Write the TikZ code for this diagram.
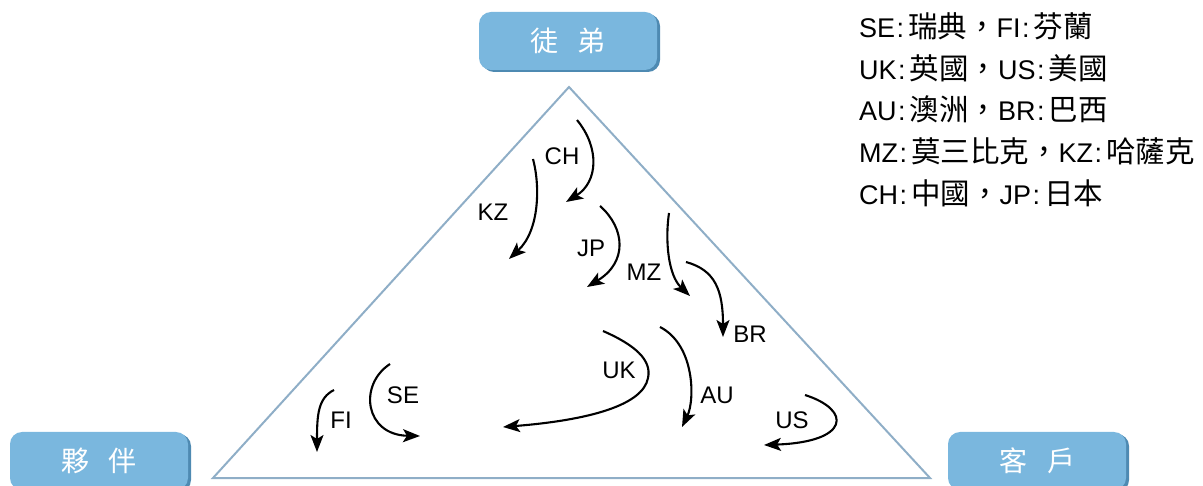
\documentclass[tikz,border=0pt]{standalone}
\usepackage{fontspec}
\setmainfont{Liberation Sans}
\newfontfamily\zhfont{Noto Sans CJK TC}
\newcommand{\zh}[1]{{\zhfont\fontsize{29.5}{34}\selectfont #1}}
\newcommand{\cln}{\hspace{1.5pt}:\hspace{4pt}}
\usetikzlibrary{arrows.meta,shadows}
\definecolor{boxblue}{RGB}{122,183,222}
\definecolor{boxshade}{RGB}{78,138,178}
\definecolor{triline}{RGB}{143,174,199}
\tikzset{
 box/.style={fill=boxblue, rounded corners=12pt, minimum width=178pt, minimum height=58pt, inner sep=0pt, text=white, font=\zhfont\fontsize{28}{30}\selectfont, drop shadow={shadow xshift=3pt, shadow yshift=-2pt, fill=boxshade, opacity=1}},
 lbl/.style={font=\fontsize{24}{26}\selectfont, inner sep=0pt},
 legend/.style={anchor=base west, inner sep=0pt, font=\fontsize{27}{30}\selectfont},
 flow/.style={line width=2.1pt, -{Stealth[length=17pt,width=13pt,inset=4pt]}},
 tri/.style={draw=triline, line width=2pt, line join=miter},
}
\begin{document}
\begin{tikzpicture}[x=1pt,y=-1pt]
\clip (0,0) rectangle (1203,486);
\useasboundingbox (0,0) rectangle (1203,486);
% triangle
\coordinate (apex) at (569,87);
\coordinate (bl) at (213,478);
\coordinate (br) at (930,478);
\draw[tri] (apex) -- (bl) -- (br) -- cycle;
% boxes
\node[box] (tudi) at (568,41) {徒\hspace{20pt}弟};
\node[box] (huoban) at (99,461) {夥\hspace{20pt}伴};
\node[box] (kehu) at (1037,461) {客\hspace{20pt}戶};
% legend
\node[legend] (lg1) at (859,38) {SE\cln\zh{瑞典，}FI\cln\zh{芬蘭}};
\node[legend] (lg2) at (859,80) {UK\cln\zh{英國，}US\cln\zh{美國}};
\node[legend] (lg3) at (859,121) {AU\cln\zh{澳洲，}BR\cln\zh{巴西}};
\node[legend] (lg4) at (859,163) {MZ\cln\zh{莫三比克，}KZ\cln\zh{哈薩克}};
\node[legend] (lg5) at (859,205) {CH\cln\zh{中國，}JP\cln\zh{日本}};
% labels
\node[lbl] (lCH) at (562,156) {CH};
\node[lbl] (lKZ) at (493,212) {KZ};
\node[lbl] (lJP) at (591,248) {JP};
\node[lbl] (lMZ) at (644,272) {MZ};
\node[lbl] (lBR) at (750,334) {BR};
\node[lbl] (lAU) at (717,395) {AU};
\node[lbl] (lUS) at (792,420) {US};
\node[lbl] (lUK) at (619,370) {UK};
\node[lbl] (lSE) at (403,395) {SE};
\node[lbl] (lFI) at (341,420) {FI};
% arrow end points
\coordinate (ch1) at (577,120); \coordinate (ch2) at (566,202);
\coordinate (kz1) at (533,159); \coordinate (kz2) at (509,259);
\coordinate (jp1) at (600,206); \coordinate (jp2) at (587,287);
\coordinate (mz1) at (669,213); \coordinate (mz2) at (690,296);
\coordinate (br1) at (686,262); \coordinate (br2) at (723,337);
\coordinate (au1) at (660,327); \coordinate (au2) at (682,427);
\coordinate (us1) at (805,395); \coordinate (us2) at (764,445);
\coordinate (uk1) at (603,331); \coordinate (ukm) at (648,378); \coordinate (uk2) at (503,427);
\coordinate (se1) at (390,364); \coordinate (se2) at (420,436);
\coordinate (fi1) at (334,390); \coordinate (fi2) at (317,452);
% arrows
\draw[flow] (ch1) .. controls (600,148) and (598,182) .. (ch2);
\draw[flow] (kz1) .. controls (540,185) and (540,230) .. (kz2);
\draw[flow] (jp1) .. controls (625,228) and (628,262) .. (jp2);
\draw[flow] (mz1) .. controls (665,240) and (668,275) .. (mz2);
\draw[flow] (br1) .. controls (715,270) and (723,290) .. (br2);
\draw[flow] (au1) .. controls (695,345) and (695,400) .. (au2);
\draw[flow] (us1) .. controls (852,410) and (850,442) .. (us2);
\draw[flow] (uk1) .. controls (635,345) and (652,360) .. (ukm) .. controls (643,405) and (590,420) .. (uk2);
\draw[flow] (se1) .. controls (358,385) and (365,435) .. (se2);
\draw[flow] (fi1) .. controls (318,398) and (317,415) .. (fi2);
\end{tikzpicture}
\end{document}
